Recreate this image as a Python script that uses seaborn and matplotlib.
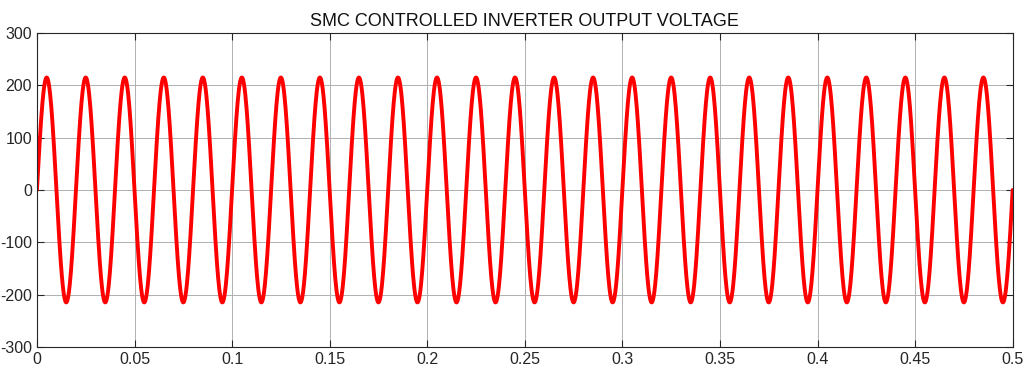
import numpy as np
import pandas as pd
import matplotlib
matplotlib.use("Agg")
import matplotlib.pyplot as plt
import seaborn as sns

# Signal parameters
amplitude_v = 215.0      # peak voltage
frequency_hz = 50.0      # 25 cycles in 0.5 s
t_end = 0.5
sample_step = 0.0002

x_ticks = [0, 0.05, 0.1, 0.15, 0.2, 0.25, 0.3, 0.35, 0.4, 0.45, 0.5]
x_tick_labels = ["0", "0.05", "0.1", "0.15", "0.2", "0.25", "0.3", "0.35", "0.4", "0.45", "0.5"]
y_ticks = [-300, -200, -100, 0, 100, 200, 300]
y_tick_labels = ["-300", "-200", "-100", "0", "100", "200", "300"]
title = "SMC CONTROLLED INVERTER OUTPUT VOLTAGE"

t = np.arange(0, t_end + sample_step / 2, sample_step)
v = amplitude_v * np.sin(2 * np.pi * frequency_hz * t)
df = pd.DataFrame({"t": t, "v": v})

sns.set_theme(style="white")
plt.rcParams["font.family"] = ["Liberation Sans Narrow", "Liberation Sans", "DejaVu Sans"]

fig = plt.figure(figsize=(10.26, 3.71), dpi=100)
ax = fig.add_axes([0.036, 0.065, 0.951, 0.846])
sns.lineplot(data=df, x="t", y="v", ax=ax, color="#ff0000", linewidth=2.8)

ax.set_xlim(0, 0.5)
ax.set_ylim(-300, 300)
ax.set_xticks(x_ticks)
ax.set_xticklabels(x_tick_labels)
ax.set_yticks(y_ticks)
ax.set_yticklabels(y_tick_labels)
ax.grid(True, color="#b0b0b0", linewidth=0.7)
ax.set_axisbelow(True)
ax.set_xlabel("")
ax.set_ylabel("")
ax.tick_params(direction="in", length=5, width=0.8, colors="#262626", labelsize=11.5,
               top=True, right=True, bottom=True, left=True)
for lbl in ax.get_xticklabels() + ax.get_yticklabels():
    lbl.set_color("#262626")
for s in ax.spines.values():
    s.set_color("#262626")
    s.set_linewidth(0.8)
ax.set_title(title, fontsize=13, color="#111111", pad=5)

fig.savefig("out.png", dpi=100)
